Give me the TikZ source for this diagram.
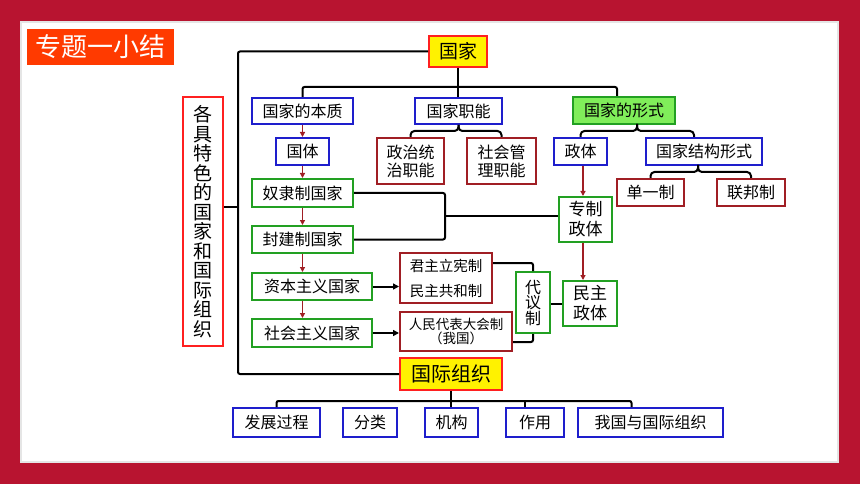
\documentclass[tikz,border=0pt]{standalone}
\usepackage{fontspec}
\newfontfamily\cjk{Noto Sans CJK SC}
\usetikzlibrary{arrows.meta,calc}
\definecolor{bgred}{HTML}{B81430}
\definecolor{bblue}{HTML}{1E1ECC}
\definecolor{ggreen}{HTML}{22A022}
\definecolor{dred}{HTML}{A01E24}
\definecolor{bred}{HTML}{FF2020}
\definecolor{lgreen}{HTML}{80EE5A}
\definecolor{torange}{HTML}{FF3A00}
\newcommand\myfs[2]{\fontsize{#1}{#2}\selectfont}
\tikzset{
 box/.style={draw, line width=2pt, inner sep=0pt, align=center, text=black},
 sz/.style 2 args={minimum width=#1pt, minimum height=#2pt},
 bbox/.style={box, draw=bblue},
 gbox/.style={box, draw=ggreen},
 rbox/.style={box, draw=dred},
 ybox/.style={box, draw=bred, fill=yellow},
 conn/.style={line width=2pt, black, rounded corners=2pt},
 brc/.style={line width=2pt, black, rounded corners=4pt},
 rarr/.style={line width=1.3pt, dred, -{Triangle[length=5pt,width=5pt]}},
 barr/.style={line width=2pt, black, -{Triangle[length=6pt,width=6pt]}},
}
\begin{document}
\begin{tikzpicture}[x=1pt,y=-1pt,font=\cjk\myfs{16}{18}]
\fill[bgred] (0,0) rectangle (860,484);
\useasboundingbox (0,0) rectangle (860,484);
\fill[white] (21,22) rectangle (838,462);
\draw[gray!20, line width=2pt] (21,22) rectangle (838,462);

% title
\node[fill=torange, sz={147}{36}, inner sep=0pt, text=white, font=\cjk\myfs{26}{28}] (title) at (100.5,47) {专题一小结};

% top level
\node[ybox, sz={58}{31}, font=\cjk\myfs{19}{21}] (gj) at (458,51.5) {国家};
\node[ybox, sz={102}{32}, font=\cjk\myfs{20}{22}] (gjzz) at (451,374) {国际组织};
\node[box, draw=bred, sz={40}{249}, font=\cjk\myfs{19}{19.5}] (gjts) at (203,221.5)
  {各\\具\\特\\色\\的\\国\\家\\和\\国\\际\\组\\织};

% second level
\node[bbox, sz={101}{26}] (bz) at (302.5,111) {国家的本质};
\node[bbox, sz={87}{26}] (zn) at (458.5,111) {国家职能};
\node[box, draw=ggreen, fill=lgreen, sz={102}{27}] (xs) at (624,110.5) {国家的形式};

% third level
\node[bbox, sz={53}{27}] (gt) at (302.5,151.5) {国体};
\node[rbox, sz={67}{46}] (zz) at (410.5,161) {政治统\\治职能};
\node[rbox, sz={69}{46}] (shg) at (501.5,161) {社会管\\理职能};
\node[bbox, sz={53}{27}] (zt) at (580.5,151.5) {政体};
\node[bbox, sz={116}{27}] (jg) at (704,151.5) {国家结构形式};
\node[rbox, sz={67}{27}] (dy) at (650.5,192.5) {单一制};
\node[rbox, sz={68}{27}] (lb) at (751,192.5) {联邦制};

% state types
\node[gbox, sz={101}{28}] (nl) at (302.5,193) {奴隶制国家};
\node[gbox, sz={101}{27}] (fj) at (302.5,239.5) {封建制国家};
\node[gbox, sz={120}{27}] (zb) at (312,286.5) {资本主义国家};
\node[gbox, sz={120}{28}] (shz) at (312,333) {社会主义国家};
\node[gbox, sz={53}{45}, font=\cjk\myfs{17}{20}] (jz) at (585.5,219.5) {专制\\政体};
\node[gbox, sz={54}{45}, font=\cjk\myfs{17}{20}] (mz) at (590,303.5) {民主\\政体};
\node[rbox, sz={92}{50}, font=\cjk\myfs{14.5}{25}] (jj) at (446,278) {君主立宪制\\民主共和制};
\node[rbox, sz={112}{39}, font=\cjk\myfs{13.5}{14.5}] (rd) at (456,331.5) {人民代表大会制\\（我国）};
\node[gbox, sz={34}{61}, font=\cjk\myfs{16}{15.5}] (dyz) at (533,302.5) {代\\议\\制};

% bottom
\node[bbox, sz={87}{29}] (fz) at (276.5,422.5) {发展过程};
\node[bbox, sz={54}{29}] (fl) at (370,422.5) {分类};
\node[bbox, sz={53}{29}] (jgou) at (451.5,422.5) {机构};
\node[bbox, sz={58}{29}] (zy) at (535,422.5) {作用};
\node[bbox, sz={145}{29}] (wg) at (650.5,422.5) {我国与国际组织};

% ---- connectors ----
\coordinate (spine) at (238,372);
\coordinate (spineA) at (238,207);
\draw[conn] (gj.west) -| (spine |- gjzz.west) -- (gjzz.west);
\draw[conn] (gjts.east |- spineA) -- (spineA);

\coordinate (tr) at (617,87);
\draw[conn] (gj.south) -- (gj.south |- zn.north);
\draw[conn] (bz.north) |- (tr) -- (tr |- xs.north);

% braces
\draw[brc] (zz.north) |- (zn.south |- 0,131) -- (zn.south);
\draw[brc] (shg.north) |- (zn.south |- 0,131) -- (zn.south);
\coordinate (xc) at (637,124);
\coordinate (jgr) at ($(jg.north)+(-10,0)$);
\draw[brc] (zt.north) |- (xc |- 0,131) -- (xc);
\draw[brc] (jgr) |- (xc |- 0,131) -- (xc);
\coordinate (jc) at (698,165);
\draw[brc] (dy.north) |- (jc |- 0,172) -- (jc);
\draw[brc] (lb.north) |- (jc |- 0,172) -- (jc);

% red arrows
\draw[rarr] (bz.south) -- (gt.north);
\draw[rarr] (gt.south) -- (nl.north);
\draw[rarr] (nl.south) -- (fj.north);
\draw[rarr] (fj.south) -- (fj.south |- zb.north);
\draw[rarr] (zb.south -| fj.south) -- (fj.south |- shz.north);
\coordinate (ax) at (583,0);
\draw[rarr] (ax |- zt.south) -- (ax |- jz.north);
\draw[rarr] (ax |- jz.south) -- (ax |- mz.north);

% slave/feudal -> autocracy
\coordinate (bk) at (445,216);
\draw[conn] (nl.east) -| (bk) |- (fj.east);
\draw[conn] (bk) -- (bk -| jz.west);

% capitalist / socialist
\draw[barr] (zb.east) -- (zb.east -| jj.west);
\draw[barr] (shz.east) -- (shz.east -| rd.west);
\draw[conn] (jj.east |- 0,263) -| (dyz.north);
\draw[conn] (rd.east |- 0,342) -| (dyz.south);
\draw[conn] (dyz.east |- mz.west) -- (mz.west);

% bottom tree
\coordinate (bl) at (0,401);
\coordinate (wgt) at ($(wg.north)+(-19,0)$);
\coordinate (zyt) at ($(zy.north)+(-10,0)$);
\draw[conn] (fz.north) |- (wgt |- bl) -- (wgt);
\draw[conn] (gjzz.south) -- (gjzz.south |- jgou.north);
\draw[conn] ($(fl.north)+(3,0)$) -- ($(fl.north)+(3,0)$ |- bl);
\draw[conn] (zyt) -- (zyt |- bl);
\end{tikzpicture}
\end{document}
